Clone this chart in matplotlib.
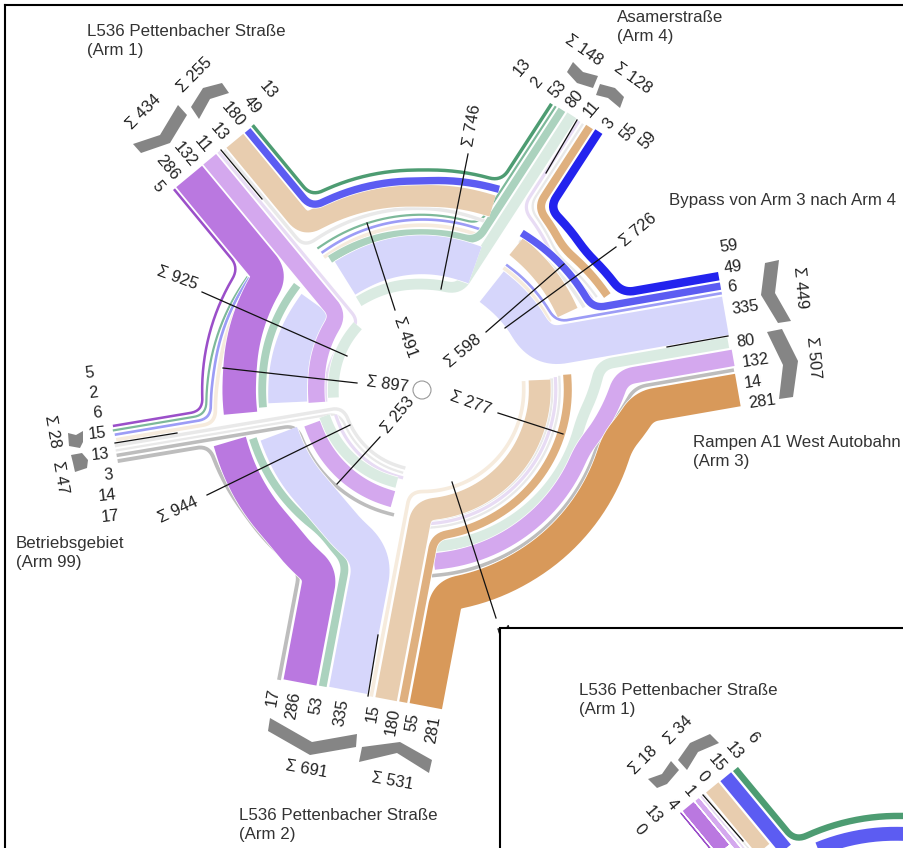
import matplotlib
matplotlib.use("Agg")
import matplotlib.pyplot as plt
import numpy as np
from matplotlib.patches import Circle, Polygon, Rectangle

plt.rcParams['font.family'] = ['Liberation Sans', 'DejaVu Sans']

# Verkehrsstrom values per arm, in the order they sit along the arm end
arm1_vals = [5, 286, 132, 11, 13, 180, 49, 13]
arm99_vals = [5, 2, 6, 15, 13, 3, 14, 17]
arm2_vals = [17, 286, 53, 335, 15, 180, 55, 281]
arm3_vals = [59, 49, 6, 335, 80, 132, 14, 281]
arm4_vals = [13, 2, 53, 80, 11, 3, 55, 59]
inset_vals = [0, 13, 4, 1, 0, 15, 13, 6]

arm_vals = {"a1": arm1_vals, "a99": arm99_vals, "a2": arm2_vals, "a3": arm3_vals, "a4": arm4_vals, "in": inset_vals}

# arm ends: first slot, last slot, direction into the roundabout
arms = {
    "a1": ((173, 190), (253, 123), (0.637, 0.77)),
    "a99": ((111, 425), (118, 463), (0.986, -0.166)),
    "a2": ((277, 680), (442, 709), (0.186, -0.982)),
    "a3": ((718, 272), (742, 406), (-0.985, 0.172)),
    "a4": ((550, 103), (603, 133), (-0.545, 0.84)),
    "in": ((680, 813), (738, 767), (0.637, 0.77)),
}
centre = (422, 390)
centre_in = (907, 1034)
px_per_veh = 0.11
px_per_veh_in = 1.07

c_purple5 = "#9B4FC9"
c_purple = "#BA78E0"
c_lpurple = "#D4A8EE"
c_lilac = "#E8DCF4"
c_pale = "#E9E9E9"
c_grey = "#BDBDBD"
c_beige = "#E8CDAF"
c_pbeige = "#F6EBDD"
c_tan = "#DFB07F"
c_orange = "#D8995A"
c_lav = "#D6D6FB"
c_blue6 = "#9C9CF6"
c_blue49 = "#5C5CF2"
c_blue59 = "#2323EE"
c_green13 = "#4D9C72"
c_green2 = "#7DB99A"
c_green53 = "#ABD2BE"
c_pgreen = "#DAEBE2"

# (value, colour, visible pieces); a piece runs through arm slots and (angle, radius) points
flows = [
    (5, c_purple5, [[("a1", 0, 220), ("a99", 0, 220)]]),
    (2, c_green2, [[("a4", 1, 175), (127, 176)], [(147, 208), (175, 214), ("a99", 1, 217)]]),
    (6, c_blue6, [[("a3", 2, 150), (57, 151)], [(69, 171), (127, 170)], [(147, 206), (175, 209), ("a99", 2, 213)]]),
    (15, c_pbeige, [[("a2", 4, 102), (300, 102), (366, 102)], [(28, 145), (57, 147)], [(69, 165), (127, 165)],
                    [(147, 202), (175, 204), ("a99", 3, 209)]]),
    (13, c_pale, [[("a99", 4, 80), (258, 80)], [(272, 130), (366, 130)], [(27, 182), (57, 178)],
                  [(69, 180), ("a1", 4, 185)]]),
    (3, c_pale, [[("a99", 5, 85), (258, 85)], [(272, 138), (366, 138)], [(28, 198), (45, 191), ("a4", 5, 212)]]),
    (14, c_grey, [[("a99", 6, 130), (258, 128)], [(273, 186), (345, 184), ("a3", 6, 212)]]),
    (17, c_grey, [[("a99", 7, 220), (215, 216), ("a2", 0, 218)]]),
    (11, c_lilac, [[("a1", 3, 92), (175, 97), (187, 97)], [(196, 90), (258, 90)], [(272, 134), (366, 134)],
                   [(28, 193), (45, 186), ("a4", 4, 208)]]),
    (80, c_pgreen, [[("a4", 3, 106), (90, 106), (126, 109)], [(135, 91), (175, 89), (186, 89)], [(195, 101), (255, 96)],
                    [(274, 157), (350, 162), ("a3", 4, 180)]]),
    (53, c_green53, [[("a4", 2, 158), (90, 157), (126, 160)], [(140, 163), (175, 160), (187, 160)],
                     [(196, 176), (235, 174), ("a2", 2, 188)]]),
    (335, c_lav, [[(56, 125), ("a3", 3, 125)], [(67, 136), (126, 136)], [(141, 135), (187, 135)],
                  [(197, 150), (230, 150), ("a2", 3, 172)]]),
    (132, c_lpurple, [[("a1", 2, 112), (175, 106), (187, 106)], [(197, 115), (256, 113)],
                      [(274, 172), (340, 171), ("a3", 5, 200)]]),
    (286, c_purple, [[("a1", 1, 190), (175, 183), (188, 183)], [(195, 199), (225, 200), ("a2", 1, 210)]]),
    (180, c_beige, [[("a2", 5, 120), (340, 118), (366, 118)], [(28, 165), (57.5, 172)], [(69, 197), (90, 194), ("a1", 5, 202)]]),
    (55, c_tan, [[("a2", 6, 147), (300, 146), (367, 146)], [(27, 208), (45, 200), ("a4", 6, 216)]]),
    (281, c_orange, [[("a2", 7, 206), (300, 204), (345, 202), ("a3", 7, 222)]]),
    (49, c_blue49, [[("a3", 1, 189), (58, 186)], [(69, 215), (90, 209), ("a1", 6, 213)]]),
    (13, c_green13, [[("a4", 0, 223), (90, 220), ("a1", 7, 223)]]),
    (59, c_blue59, [[("a3", 0, 222), (40, 214), ("a4", 7, 222)]]),
]

inset_flows = [
    (0, c_purple5, [[("in", 0, 120)]]),
    (13, c_purple, [[("in", 1, 120)]]),
    (4, c_lpurple, [[("in", 2, 120)]]),
    (1, c_lilac, [[("in", 3, 120)]]),
    (0, c_pale, [[("in", 4, 120)]]),
    (15, c_beige, [[("in", 5, 188), (90, 180)]]),
    (13, c_blue49, [[("in", 6, 207), (90, 200)]]),
    (6, c_green13, [[("in", 7, 223), (90, 218)]]),
]

arm_labels = {
    "a1": ([(158, 187), (167, 168), (185, 155), (203, 145), (219, 132), (233, 115), (252, 105), (268, 90)], -50),
    "a99": ([(89, 373), (93, 393), (97, 413), (97, 434), (100, 455), (108, 475), (107, 496), (110, 517)], 6),
    "a2": ([(273, 697), (293, 706), (317, 705), (341, 713), (373, 713), (393, 722), (413, 722), (433, 730)], 80),
    "a3": ([(729, 246), (733, 267), (732, 287), (745, 308), (746, 341), (756, 361), (753, 382), (762, 402)], 8),
    "a4": ([(522, 67), (537, 83), (558, 89), (575, 99), (592, 109), (609, 124), (629, 132), (648, 140)], 50),
    "in": ([(640, 830), (653, 815), (672, 805), (689, 792), (703, 777), (717, 763), (734, 751), (753, 738)], -50),
}

# sums: text, x, y, rotation
sum_labels = [
    ("Σ 434", 144, 112, 45), ("Σ 255", 195, 75, 45), ("Σ 148", 584, 50, -35), ("Σ 128", 633, 78, -35),
    ("Σ 449", 800, 288, -85), ("Σ 507", 813, 358, -85), ("Σ 531", 392, 781, -10), ("Σ 691", 306, 769, -10),
    ("Σ 28", 52, 431, -80), ("Σ 47", 60, 477, -80), ("Σ 925", 177, 278, -20), ("Σ 897", 387, 384, -8),
    ("Σ 944", 178, 510, 25), ("Σ 253", 398, 415, 50), ("Σ 491", 405, 337, -70), ("Σ 746", 472, 125, 80),
    ("Σ 726", 638, 230, 40), ("Σ 598", 463, 351, 40), ("Σ 277", 470, 403, -20), ("Σ 784", 507, 646, -72),
]
inset_sums = [("Σ 18", 643, 760, 45), ("Σ 34", 678, 730, 45)]

leaders = [
    ((202, 292), (347, 356)), ((223, 368), (357, 383)), ((207, 495), (350, 425)), ((380, 437), (337, 484)),
    ((367, 223), (395, 310)), ((468, 154), (441, 289)), ((616, 247), (505, 328)), ((564, 264), (486, 332)),
    ((498, 413), (563, 434)), ((452, 482), (496, 618)),
    # separators on the arms
    ((221, 150), (262, 199)), ((577, 120), (546, 173)), ((728, 336), (667, 347)), ((378, 635), (368, 696)),
    ((115, 443), (177, 433)),
]

chevrons = [
    [(133, 144), (160, 135), (178, 105), (187, 115), (170, 143), (141, 153)],
    [(191, 107), (203, 88), (222, 83), (229, 93), (210, 99), (199, 119)],
    [(573, 62), (583, 72), (598, 76), (593, 88), (577, 83), (567, 72)],
    [(600, 84), (615, 88), (624, 97), (620, 108), (608, 98), (596, 95)],
    [(765, 263), (779, 260), (775, 293), (791, 321), (778, 323), (761, 295)],
    [(767, 332), (782, 329), (798, 361), (793, 397), (779, 399), (783, 365)],
    [(362, 747), (400, 742), (432, 760), (429, 773), (397, 753), (359, 762)],
    [(270, 718), (312, 742), (357, 734), (356, 747), (310, 755), (268, 731)],
    [(68, 433), (76, 435), (83, 431), (83, 442), (80, 448), (69, 446)],
    [(71, 455), (82, 453), (88, 460), (87, 468), (75, 472), (73, 463)],
]
inset_chevrons = [
    [(648, 779), (662, 774), (671, 761), (679, 770), (667, 784), (657, 788)],
    [(678, 760), (690, 743), (710, 734), (719, 743), (698, 752), (687, 770)],
]

names = [
    ("L536 Pettenbacher Straße\n(Arm 1)", 87, 41),
    ("Asamerstraße\n(Arm 4)", 617, 27),
    ("Bypass von Arm 3 nach Arm 4", 669, 200),
    ("Rampen A1 West Autobahn\n(Arm 3)", 693, 452),
    ("Betriebsgebiet\n(Arm 99)", 16, 553),
    ("L536 Pettenbacher Straße\n(Arm 2)", 239, 825),
]


def slot_width(v, scale):
    return 2 + v * scale if scale < 0.5 else max(1.2, v * scale)


def slot_points(arm, scale):
    a, b, _ = arms[arm]
    a, b = np.array(a, float), np.array(b, float)
    w = np.array([slot_width(v, scale) for v in arm_vals[arm]])
    span = np.linalg.norm(b - a)
    gap = (span - w.sum()) / (len(w) - 1)
    off = np.cumsum(w + gap) - gap - w / 2
    return [a + (b - a) / span * o for o in off]


def corner(arm, idx, r, c, scale):
    # where the straight arm meets the circle of radius r
    p = slot_points(arm, scale)[idx]
    d = np.array(arms[arm][2])
    q = p - c
    bb = q @ d
    disc = bb * bb - (q @ q - r * r)
    return p, p + d * (-bb - np.sqrt(max(disc, 0)))


def to_xy(ang, r, c):
    t = np.radians(ang)
    return c + r * np.array([np.cos(t), -np.sin(t)])


def polar(p, c):
    dx, dy = p - c
    return np.degrees(np.arctan2(-dy, dx)) % 360, np.hypot(dx, dy)


def smooth(pts, win=14.0, step=1.5):
    pts = np.array(pts)
    seg = np.hypot(*np.diff(pts, axis=0).T)
    keep = np.r_[True, seg > 1e-6]
    pts = pts[keep]
    s = np.r_[0, np.cumsum(np.hypot(*np.diff(pts, axis=0).T))]
    t = np.arange(0, s[-1] + step, step)
    x, y = np.interp(t, s, pts[:, 0]), np.interp(t, s, pts[:, 1])
    n = int(win / step)
    if len(t) < 3 or n < 1:
        return x, y
    k = np.ones(2 * n + 1) / (2 * n + 1)
    dx0, dy0 = x[1] - x[0], y[1] - y[0]
    dx1, dy1 = x[-1] - x[-2], y[-1] - y[-2]
    i = np.arange(1, n + 1)
    xp = np.r_[x[0] - dx0 * i[::-1], x, x[-1] + dx1 * i]
    yp = np.r_[y[0] - dy0 * i[::-1], y, y[-1] + dy1 * i]
    return np.convolve(xp, k, "valid"), np.convolve(yp, k, "valid")


def piece_xy(piece, c, scale):
    # expand slots and polar points into a dense line
    nodes = []
    for item in piece:
        if isinstance(item[0], str):
            end, cor = corner(item[0], item[1], item[2], c, scale)
            ang, r = polar(cor, c)
            nodes.append(("slot", end, ang, r))
        else:
            nodes.append(("polar", None, item[0], item[1]))
    line = []
    for i, (kind, end, ang, r) in enumerate(nodes):
        if kind == "slot" and i == 0:
            line.append(end)
        if i > 0:
            a0, r0 = nodes[i - 1][2], nodes[i - 1][3]
            a1 = ang
            if kind == "slot":
                a1 = a0 + ((ang - a0 + 180) % 360 - 180)
            if nodes[i - 1][0] == "slot":
                a0 = a1 - ((a1 - a0 + 180) % 360 - 180)
            m = max(int(abs(a1 - a0) / 2), 1)
            for f in np.linspace(0, 1, m + 1):
                line.append(to_xy(a0 + (a1 - a0) * f, r0 + (r - r0) * f, c))
        elif kind == "polar" or len(nodes) == 1:
            line.append(to_xy(ang, r, c))
        if kind == "slot" and i == len(nodes) - 1:
            line.append(end)
    return line


def draw_flows(ax, flow_list, c, scale, z):
    for val, col, pieces in flow_list:
        w = slot_width(val, scale)
        for piece in pieces:
            line = piece_xy(piece, c, scale)
            win = 24 if val == 335 else 12
            x, y = smooth(line, win)
            ax.plot(x, y, color="white", lw=(w + 1.4) * 0.72, solid_capstyle="butt", solid_joinstyle="round", zorder=z)
            ax.plot(x, y, color=col, lw=w * 0.72, solid_capstyle="butt", solid_joinstyle="round", zorder=z)


fig = plt.figure(figsize=(9.04, 8.48), dpi=100)
ax = fig.add_axes([0, 0, 1, 1])
ax.set_xlim(0, 904)
ax.set_ylim(848, 0)
ax.axis("off")

draw_flows(ax, flows, np.array(centre, float), px_per_veh, 2)

for a, b in leaders:
    ax.plot([a[0], b[0]], [a[1], b[1]], color="#111111", lw=0.9, zorder=3)
for pts in chevrons:
    ax.add_patch(Polygon(pts, closed=True, fc="#858585", ec="none", zorder=3))
ax.add_patch(Circle(centre, 9, fc="white", ec="#999999", lw=0.8, zorder=3))

txt = dict(fontsize=11.8, color="#222222", ha="center", va="center", rotation_mode="anchor")
for arm in ["a1", "a99", "a2", "a3", "a4"]:
    pos, rot = arm_labels[arm]
    for (x, y), v in zip(pos, arm_vals[arm]):
        ax.text(x, y, str(v), rotation=rot, zorder=4, **txt)
for s, x, y, rot in sum_labels:
    ax.text(x, y, s, rotation=rot, zorder=4, **txt)
for s, x, y in names:
    ax.text(x, y, s, fontsize=12.2, color="#333333", ha="left", va="center", linespacing=1.3, zorder=4)

# inset panel, same diagram for the other time slice
ax.add_patch(Rectangle((500, 628), 420, 240, fc="white", ec="black", lw=1.5, zorder=5))
draw_flows(ax, inset_flows, np.array(centre_in, float), px_per_veh_in, 6)
ax.plot([703, 743], [795, 841], color="#111111", lw=0.9, zorder=7)
for pts in inset_chevrons:
    ax.add_patch(Polygon(pts, closed=True, fc="#858585", ec="none", zorder=7))
pos, rot = arm_labels["in"]
for (x, y), v in zip(pos, inset_vals):
    ax.text(x, y, str(v), rotation=rot, zorder=7, **txt)
for s, x, y, rot in inset_sums:
    ax.text(x, y, s, rotation=rot, zorder=7, **txt)
ax.text(579, 700, "L536 Pettenbacher Straße\n(Arm 1)", fontsize=12.2, color="#333333", ha="left", va="center",
        linespacing=1.3, zorder=7)

# outer frame of the screenshot
ax.plot([5, 904], [4.5, 4.5], color="black", lw=1.5, zorder=8)
ax.plot([5, 5], [4.5, 848], color="black", lw=1.5, zorder=8)

fig.savefig("out.png", dpi=100)
